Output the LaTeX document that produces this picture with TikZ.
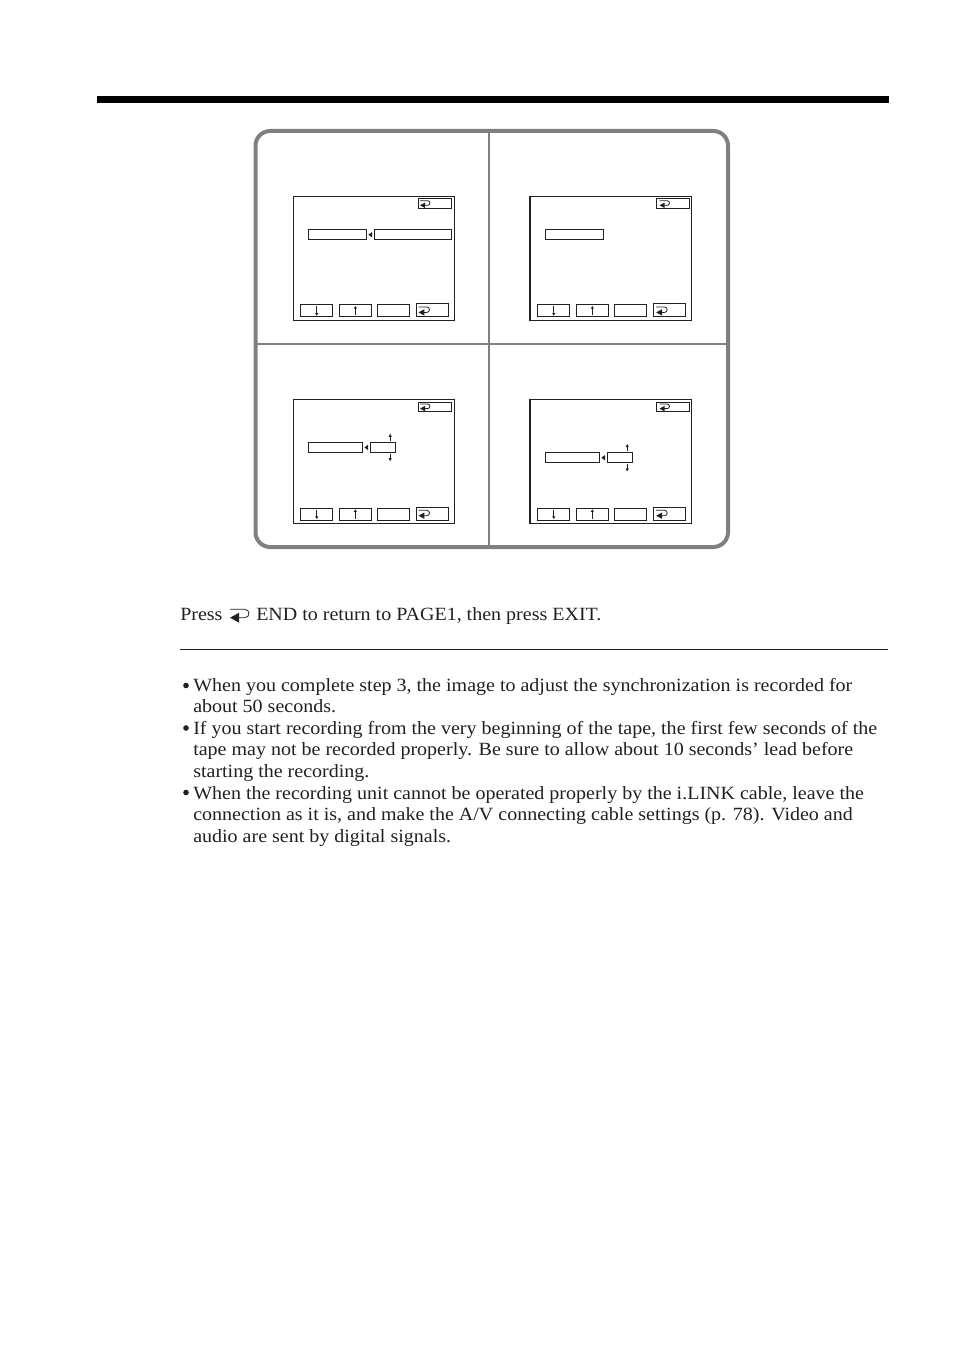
\documentclass[tikz,border=0pt]{standalone}
\usepackage{fontspec}
\setmainfont[FakeStretch=1.072]{Liberation Serif}
\usepackage{xcolor}
\usetikzlibrary{positioning}
\definecolor{panelgray}{RGB}{128, 128, 130}
\definecolor{inkdark}{RGB}{35, 31, 32}
\newcommand{\backicon}[4]{% centre x, centre y, half width, half height
  \draw[icon line] (#1-#3,#2-#4) -- (#1+#3-#4,#2-#4) .. controls (#1+#3+0.3*#4,#2-#4) and (#1+#3+0.3*#4,#2+#4) .. (#1+#3-#4,#2+#4) -- (#1-#3+1.5*#4,#2+#4);
  \fill[inkdark] (#1-#3,#2+#4) -- (#1-#3+2.2*#4,#2-0.2*#4) -- (#1-#3+2.2*#4,#2+2.2*#4) -- cycle;
}
\newcommand{\pointer}[1]{% small tip left of a value box
  \fill[inkdark] ([xshift=-3.9pt]#1.west) -- ([xshift=-1pt,yshift=2.1pt]#1.west) -- ([xshift=-1pt,yshift=-2.1pt]#1.west) -- cycle;
}
\newcommand{\updown}[1]{% ticks over and under a value box
  \draw[tick] ([xshift=-4.1pt,yshift=0.8pt]#1.north east) -- ([xshift=-4.1pt,yshift=5.4pt]#1.north east);
  \fill[inkdark] ([xshift=-5.3pt,yshift=3.9pt]#1.north east) -- ([xshift=-2.9pt,yshift=3.9pt]#1.north east) -- ([xshift=-4.1pt,yshift=6.2pt]#1.north east) -- cycle;
  \draw[tick] ([xshift=-4.1pt,yshift=-0.8pt]#1.south east) -- ([xshift=-4.1pt,yshift=-5.4pt]#1.south east);
  \fill[inkdark] ([xshift=-5.3pt,yshift=-3.9pt]#1.south east) -- ([xshift=-2.9pt,yshift=-3.9pt]#1.south east) -- ([xshift=-4.1pt,yshift=-6.2pt]#1.south east) -- cycle;
}
\begin{document}
\begin{tikzpicture}[x=0.75pt, y=-0.75pt,
    icon line/.style={line width=0.6pt, inkdark},
    frame/.style={rectangle, draw=inkdark, line width=0.8pt, inner sep=0pt, minimum width=120.8pt, minimum height=92.8pt},
    btn/.style={rectangle, draw=inkdark, line width=0.75pt, inner sep=0pt, minimum width=24pt, minimum height=9.1pt},
    valbox/.style={rectangle, draw=inkdark, line width=0.75pt, inner sep=0pt, minimum height=7.4pt},
    divider/.style={draw=panelgray, line width=2pt},
    para/.style={anchor=base west, inner sep=0pt, font=\fontsize{14}{16}\selectfont, text=inkdark},
    dot/.style={circle, fill=inkdark, inner sep=0pt, minimum size=4.2pt},
    tick/.style={line width=0.5pt, inkdark}
]
    \useasboundingbox (0,0) rectangle (954,1352);

    % Heading bar
    \fill[black] (97,96) rectangle (889,103);

    % Panel
    \draw[draw=panelgray, line width=3pt, rounded corners=11pt] (255.5,131) rectangle (728,547);
    \draw[divider] (489,131) -- (489,547);
    \draw[divider] (255.5,344) -- (728,344);

    % Screens
    \foreach \nm/\fx/\fy/\bx/\tx in {sa/293/196/300.3/418.3, sb/530.2/196/537.3/656.3, sc/293/399.3/300.3/418.3, sd/530.2/399.3/537.3/656.3} {
        \node[frame, anchor=north west] (\nm) at (\fx,\fy) {};
        \node[btn, anchor=north west, minimum width=24.4pt, minimum height=7.4pt] (\nm top) at (\tx,\fy+2.3) {};
        \node[btn, anchor=north west] (\nm down) at (\bx,\fy+108.3) {};
        \node[btn, anchor=north west] (\nm up) at (\bx+38.5,\fy+108.3) {};
        \node[btn, anchor=north west] (\nm blank) at (\bx+77,\fy+108.3) {};
        \node[btn, anchor=north west, minimum height=9.8pt] (\nm back) at (\bx+116,\fy+107.3) {};
        \draw[tick] ([yshift=3.4pt]\nm down.center) -- ([yshift=-2.4pt]\nm down.center);
        \fill[inkdark] ([xshift=-1.2pt,yshift=-1.7pt]\nm down.center) -- ([xshift=1.2pt,yshift=-1.7pt]\nm down.center) -- ([yshift=-3.6pt]\nm down.center) -- cycle;
        \draw[tick] ([yshift=-3.4pt]\nm up.center) -- ([yshift=2.4pt]\nm up.center);
        \fill[inkdark] ([xshift=-1.2pt,yshift=1.7pt]\nm up.center) -- ([xshift=1.2pt,yshift=1.7pt]\nm up.center) -- ([yshift=3.6pt]\nm up.center) -- cycle;
    }
    \draw[line width=1.3pt, inkdark] (sb.north west) -- (sb.south west);
    \draw[line width=1.3pt, inkdark] (sd.north west) -- (sd.south west);
    \backicon{425}{203}{5}{2.3}
    \backicon{664.5}{203}{5}{2.3}
    \backicon{425}{406.3}{5}{2.3}
    \backicon{664.5}{406.3}{5}{2.3}
    \backicon{424}{309.7}{5.5}{2.7}
    \backicon{661.7}{309.7}{5.5}{2.7}
    \backicon{424}{513}{5.5}{2.7}
    \backicon{661.7}{513}{5.5}{2.7}

    % Panel contents
    \node[valbox, anchor=north west, minimum width=43.6pt] (saname) at (308.3,229.3) {};
    \node[valbox, right=4.6pt of saname, minimum width=58.2pt] (saval) {};
    \pointer{saval}
    \node[valbox, anchor=north west, minimum width=43.6pt] (sbname) at (545.3,229.3) {};

    \node[valbox, anchor=north west, minimum width=40.6pt] (scname) at (308.3,442) {};
    \node[valbox, right=4.6pt of scname, minimum width=18.8pt] (scval) {};
    \pointer{scval}
    \updown{scval}

    \node[valbox, anchor=north west, minimum width=40.6pt] (sdname) at (545.3,452.3) {};
    \node[valbox, right=4.6pt of sdname, minimum width=18.8pt] (sdval) {};
    \pointer{sdval}
    \updown{sdval}

    % Text
    \node[para] (press) at (180,620) {Press};
    \node[para] (endtext) at (256,620) {END to return to PAGE1, then press EXIT.};
    \backicon{239.5}{613.5}{9.5}{4.2}
    \draw[line width=0.75pt, inkdark] (180,649.5) -- (888,649.5);

    \node[dot] (dota) at (186,685.5) {};
    \node[para] (la) at (193,691) {When you complete step 3, the image to adjust the synchronization is recorded for};
    \node[para] (lb) at ([yshift=-16.3pt]la.base west) {about 50 seconds.};
    \node[dot] (dotb) at (186,728) {};
    \node[para] (lc) at (193,734) {If you start recording from the very beginning of the tape, the first few seconds of the};
    \node[para] (ld) at ([yshift=-16.3pt]lc.base west) {tape may not be recorded properly. Be sure to allow about 10 seconds’ lead before};
    \node[para] (le) at ([yshift=-16.3pt]ld.base west) {starting the recording.};
    \node[dot] (dotc) at (186,792.5) {};
    \node[para] (lf) at (193,799) {When the recording unit cannot be operated properly by the i.LINK cable, leave the};
    \node[para] (lg) at ([yshift=-16.3pt]lf.base west) {connection as it is, and make the A/V connecting cable settings (p. 78). Video and};
    \node[para] (lh) at ([yshift=-16.3pt]lg.base west) {audio are sent by digital signals.};
\end{tikzpicture}
\end{document}
